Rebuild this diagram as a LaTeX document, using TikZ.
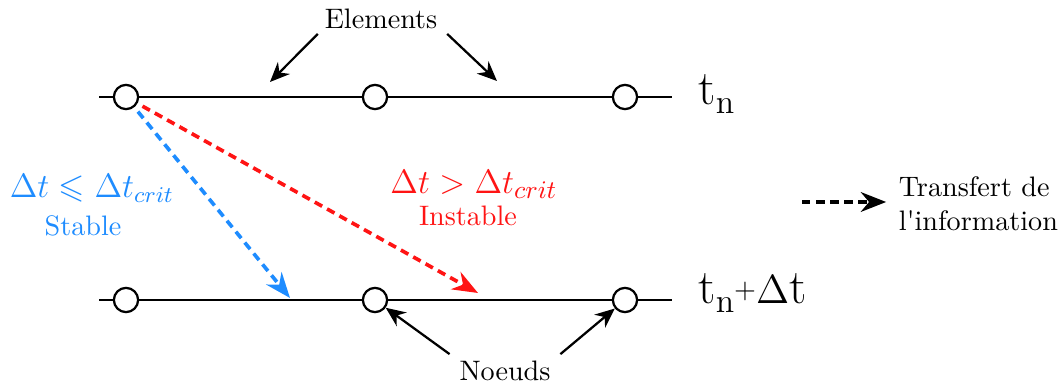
\documentclass[tikz,border=0pt]{standalone}
\usepackage{amsmath}
\usepackage{amssymb}
\usepackage{textcomp}
\usepackage{xcolor}
\usepackage{tikz}
\usetikzlibrary{arrows.meta, positioning, calc}
\definecolor{stabblue}{RGB}{30,140,255}
\definecolor{instred}{RGB}{255,20,20}

\begin{document}
\begin{tikzpicture}[
  x = 0.355pt, y = -0.355pt,
  noeud/.style  = {circle, draw, thick, fill=white, minimum size=8.6pt,
                   inner sep=0pt},
  ligne/.style  = {thick},
  arr/.style    = {-{Stealth[length=7pt, width=6pt]}, thick},
  transf/.style = {-{Stealth[length=9pt, width=7pt]}, line width=1.3pt,
                   dash pattern=on 3pt off 2pt},
  tlabel/.style = {anchor=west, inner sep=0pt},
]
  \useasboundingbox (0,0) rectangle (1062,382);

  % time levels
  \coordinate (a0) at (99,97);
  \node[noeud] (a1) at (126,97) {};
  \node[noeud] (a2) at (375,97) {};
  \node[noeud] (a3) at (625,97) {};
  \coordinate (a4) at (672,97);
  \draw[ligne] (a0) -- (a1) -- (a2) -- (a3) -- (a4);

  \coordinate (b0) at (99,300);
  \node[noeud] (b1) at (126,300) {};
  \node[noeud] (b2) at (375,300) {};
  \node[noeud] (b3) at (625,300) {};
  \coordinate (b4) at (672,300);
  \draw[ligne] (b0) -- (b1) -- (b2) -- (b3) -- (b4);

  \node[tlabel] (tn)  at (698,94)
    {\LARGE t\raisebox{-3pt}{\large n}};
  \node[tlabel] (tdt) at (698,293)
    {\LARGE t\raisebox{-3pt}{\large n}{\normalsize\raisebox{2pt}{+}}{\Large$\Delta$}t};

  % elements / noeuds
  \node (elem) at (381,19) {Elements};
  \coordinate (e1) at (270,82);
  \coordinate (e2) at (497,81);
  \draw[arr] ([shift={(3,-5)}]elem.south west) -- (e1);
  \draw[arr] ([shift={(0,-5)}]elem.south east) -- (e2);

  \node (noeuds) at (505,371) {Noeuds};
  \draw[arr] ([shift={(0,3)}]noeuds.north west) -- (b2);
  \draw[arr] ([shift={(0,3)}]noeuds.north east) -- (b3);

  % information transfer
  \coordinate (bt) at (290,298);
  \coordinate (rt) at (478,293);
  \draw[transf, stabblue, shorten <=2pt] (a1) -- (bt);
  \draw[transf, instred, shorten <=2pt] (a1) -- (rt);

  \node[text=stabblue, font=\large] (cb) at (92,188)
    {$\Delta t \leqslant \Delta t_{crit}$};
  \node[text=stabblue] (stab) at (83,226) {Stable};
  \node[text=instred, font=\fontsize{12.9}{16}\selectfont] (cr) at (474,184)
    {$\Delta t > \Delta t_{crit}$};
  \node[text=instred] (inst) at (468,216) {Instable};

  % legend
  \node[anchor=west, align=left] (leg) at (889,204)
    {Transfert de\\l\textquotesingle information};
  \coordinate (lg0) at (802,202);
  \draw[transf, shorten >=1pt] (lg0) -- (lg0 -| leg.west);
\end{tikzpicture}
\end{document}
